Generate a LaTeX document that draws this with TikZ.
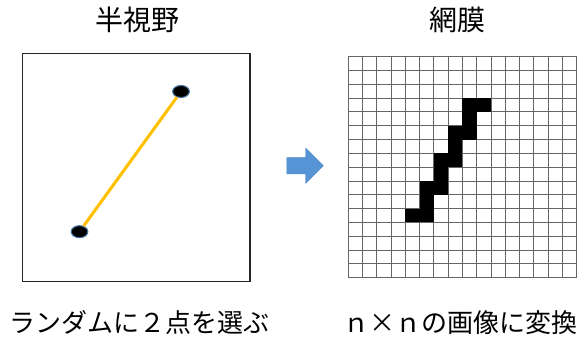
\documentclass[tikz,border=0pt]{standalone}
\usepackage{fontspec}
\setmainfont{Noto Sans CJK JP}
\usetikzlibrary{shapes.geometric,shapes.arrows}
\definecolor{lineorange}{RGB}{255,192,0}
\definecolor{dotedge}{RGB}{70,114,160}
\definecolor{arrowblue}{RGB}{86,148,214}
\tikzset{
  heading/.style={font=\fontsize{21}{25}\selectfont, inner sep=0pt},
  caption/.style={font=\fontsize{19.5}{23}\selectfont, inner sep=0pt},
  endpoint/.style={ellipse, fill=black, draw=dotedge, line width=0.8pt,
    minimum width=12.5pt, minimum height=9pt, inner sep=0pt},
  gridline/.style={black!60, line width=0.7pt},
}
\begin{document}
\begin{tikzpicture}[x=0.75pt, y=-0.75pt]
                \useasboundingbox (0,0) rectangle (581,345);
                % Headings
                \node[heading] (left title) at (137.5,20) {半視野};
                \node[heading] (right title) at (457.5,20) {網膜};
                % Visual field box
                \draw[line width=1.1pt, black!85] (22.7,53.3) rectangle (250,281.7);
                % Two random points and the segment
                \node[endpoint] (p1) at (79.5,231.7) {};
                \node[endpoint] (p2) at (181,91.5) {};
                \draw[lineorange, line width=2.3pt] (p1) -- (p2);
                % Arrow
                \node[single arrow, fill=arrowblue, draw=arrowblue!90!black, line width=0.3pt,
                  inner xsep=0pt, inner ysep=6pt, minimum height=27.4pt,
                  single arrow head extend=7.1pt] (arw) at (301,165.8) {};
                % Retina grid, 16 x 16
                \foreach \i in {0,...,16} {
                  \draw[gridline] (348.3+\i*14.27,56.7) -- ++(0,220.96);
                  \draw[gridline] (348.3,56.7+\i*13.81) -- ++(228.32,0);
                }
                % Filled cells
                \foreach \c/\r in {8/3,9/3,8/4,7/5,8/5,7/6,6/7,7/7,6/8,5/9,6/9,5/10,4/11,5/11}
                  \fill (348.3+\c*14.27,56.7+\r*13.81) rectangle ++(14.27,13.81);
                % Captions
                \node[caption] (left caption) at (139,323) {ランダムに２点を選ぶ};
                \node[caption] (right caption) at (460.5,323) {ｎ×ｎの画像に変換};
\end{tikzpicture}
\end{document}
